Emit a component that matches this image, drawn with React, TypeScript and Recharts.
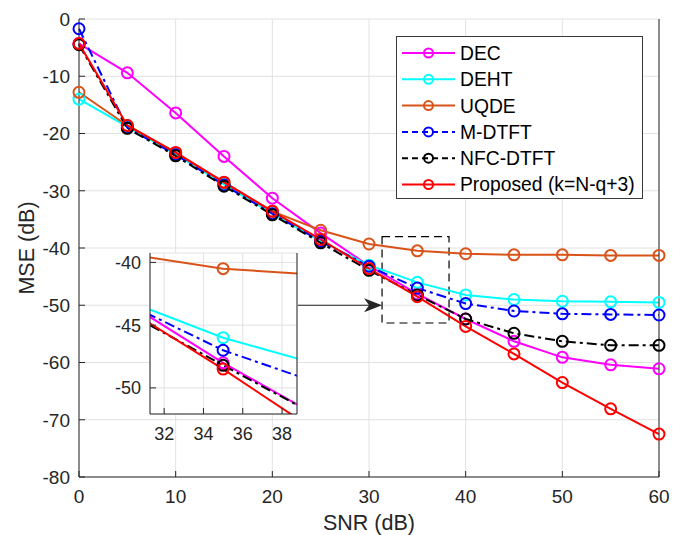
import React from 'react';
import {
  LineChart,
  Line,
  XAxis,
  YAxis,
  CartesianGrid,
  ReferenceArea,
  ReferenceLine,
} from 'recharts';

// SNR grid (dB)
const snr = [0, 5, 10, 15, 20, 25, 30, 35, 40, 45, 50, 55, 60];

// MSE (dB) per method
const dec = [-4.3, -9.4, -16.4, -24.0, -31.3, -37.4, -43.1, -48.0, -52.4, -56.3, -59.1, -60.4, -61.1];
const deht = [-14.0, -18.8, -23.6, -28.9, -34.0, -38.8, -43.0, -46.0, -48.2, -49.0, -49.3, -49.4, -49.5];
const uqde = [-12.8, -18.6, -23.4, -28.6, -33.6, -36.9, -39.3, -40.5, -41.0, -41.2, -41.2, -41.3, -41.3];
const mDtft = [-1.7, -19.0, -23.7, -29.0, -34.0, -38.8, -43.2, -47.0, -49.7, -51.0, -51.5, -51.6, -51.7];
const nfcDtft = [-4.5, -19.1, -23.9, -29.2, -34.2, -39.1, -43.9, -48.2, -52.4, -54.9, -56.3, -57.0, -57.0];
const proposed = [-4.3, -18.6, -23.3, -28.5, -33.6, -38.5, -43.6, -48.5, -53.7, -58.5, -63.5, -68.1, -72.5];

const xTicks = [0, 10, 20, 30, 40, 50, 60];
const yTicks = [-80, -70, -60, -50, -40, -30, -20, -10, 0];
const insetXTicks = [32, 34, 36, 38];
const insetYTicks = [-50, -45, -40];

// zoomed window (data coords)
const insetXDomain = [31.28, 38.76];
const insetYDomain = [-52.08, -39.25];
const zoomBox = { x1: 31.35, x2: 38.28, y1: -53.1, y2: -38.0 };
const arrowFrom = { x: 22.65, y: -50.0 };
const arrowTo = { x: 31.35, y: -50.0 };

const DASHDOT = '10 4 3 4';

const seriesList = [
  { key: 'dec', name: 'DEC', values: dec, color: '#ff00ff', dash: undefined as string | undefined },
  { key: 'deht', name: 'DEHT', values: deht, color: '#00ffff', dash: undefined },
  { key: 'uqde', name: 'UQDE', values: uqde, color: '#d95319', dash: undefined },
  { key: 'mdtft', name: 'M-DTFT', values: mDtft, color: '#0000ff', dash: DASHDOT },
  { key: 'nfc', name: 'NFC-DTFT', values: nfcDtft, color: '#000000', dash: DASHDOT },
  { key: 'proposed', name: 'Proposed (k=N-q+3)', values: proposed, color: '#ff0000', dash: undefined },
];

const data = snr.map((s, i) => {
  const row: Record<string, number> = { snr: s };
  seriesList.forEach((sr) => {
    row[sr.key] = sr.values[i];
  });
  return row;
});

const FONT = '"Liberation Sans", Arial, Helvetica, sans-serif';
const AXIS = '#262626';
const GRID = '#e2e2e2';

// tick label renderers (recharts passes x/y/payload)
const xTick = (size: number) => (props: any) => (
  <text
    x={props.x}
    y={props.y}
    dy="0.71em"
    textAnchor="middle"
    fontSize={size}
    fontFamily={FONT}
    fill={AXIS}
  >
    {props.payload.value}
  </text>
);

const yTick = (size: number) => (props: any) => (
  <text
    x={props.x}
    y={props.y}
    dy="0.36em"
    textAnchor="end"
    fontSize={size}
    fontFamily={FONT}
    fill={AXIS}
  >
    {props.payload.value}
  </text>
);

const Arrow = (props: any) => {
  const { x1, y1, x2, y2 } = props;
  return (
    <g>
      <line x1={x1} y1={y1} x2={x2 - 12} y2={y2} stroke={AXIS} strokeWidth={1} />
      <polygon
        points={`${x2},${y2} ${x2 - 18},${y2 - 7} ${x2 - 13},${y2} ${x2 - 18},${y2 + 7}`}
        fill={AXIS}
      />
    </g>
  );
};

const renderLines = () =>
  seriesList.map((sr) => (
    <Line
      key={sr.key}
      type="linear"
      dataKey={sr.key}
      stroke={sr.color}
      strokeWidth={2}
      strokeDasharray={sr.dash}
      dot={{ r: 5.5, fill: 'none', strokeWidth: 2, strokeDasharray: 'none' }}
      activeDot={false}
      isAnimationActive={false}
    />
  ));

const LegendBox = () => (
  <div
    style={{
      position: 'absolute',
      left: 396,
      top: 36,
      width: 245,
      height: 161,
      border: '1px solid #3a3a3a',
      background: '#fff',
    }}
  >
    <svg width={245} height={161}>
      {seriesList.map((sr, i) => {
        const y = 16 + i * 26.3;
        return (
          <g key={sr.key}>
            <line
              x1={5}
              x2={58}
              y1={y}
              y2={y}
              stroke={sr.color}
              strokeWidth={2}
              strokeDasharray={sr.dash ? '6 4' : undefined}
            />
            <circle cx={31.5} cy={y} r={4.5} fill="none" stroke={sr.color} strokeWidth={2} />
            <text x={63} y={y} dy="0.36em" fontSize={19.3} fontFamily={FONT} fill="#000">
              {sr.name}
            </text>
          </g>
        );
      })}
    </svg>
  </div>
);

export default function App() {
  return (
    <div
      style={{
        position: 'absolute',
        left: 0,
        top: 0,
        width: 684,
        height: 535,
        background: '#fff',
        fontFamily: FONT,
      }}
    >
      <LineChart
        width={684}
        height={535}
        data={data}
        margin={{ top: 19, right: 24, bottom: 0, left: 0 }}
      >
        <CartesianGrid stroke={GRID} />
        <XAxis
          dataKey="snr"
          type="number"
          domain={[0, 60]}
          ticks={xTicks}
          height={58}
          tickSize={-6}
          tickMargin={19}
          stroke={AXIS}
          tick={xTick(19)}
          label={{
            value: 'SNR (dB)',
            position: 'insideBottom',
            offset: 5,
            fill: AXIS,
            fontSize: 21.5,
            fontFamily: FONT,
          }}
        />
        <XAxis
          xAxisId="top"
          orientation="top"
          type="number"
          domain={[0, 60]}
          ticks={xTicks}
          height={0}
          tickSize={-6}
          tick={false}
          stroke={AXIS}
        />
        <YAxis
          type="number"
          domain={[-80, 0]}
          ticks={yTicks}
          width={79}
          tickSize={-6}
          tickMargin={15}
          stroke={AXIS}
          tick={yTick(19)}
          label={{
            value: 'MSE (dB)',
            angle: -90,
            position: 'insideLeft',
            offset: 26,
            fill: AXIS,
            fontSize: 21.5,
            fontFamily: FONT,
            style: { textAnchor: 'middle' },
          }}
        />
        <YAxis
          yAxisId="right"
          orientation="right"
          type="number"
          domain={[-80, 0]}
          ticks={yTicks}
          width={1}
          tickSize={-6}
          tick={false}
          stroke={AXIS}
        />
        {renderLines()}
        <ReferenceArea
          x1={zoomBox.x1}
          x2={zoomBox.x2}
          y1={zoomBox.y1}
          y2={zoomBox.y2}
          fill="none"
          fillOpacity={0}
          stroke="#000"
          strokeWidth={1.2}
          strokeDasharray="8 5"
          ifOverflow="visible"
        />
        <ReferenceLine
          segment={[arrowFrom, arrowTo]}
          ifOverflow="visible"
          shape={Arrow}
        />
      </LineChart>

      <div style={{ position: 'absolute', left: 100, top: 243 }}>
        <LineChart
          width={200}
          height={211}
          data={data}
          margin={{ top: 10, right: 2, bottom: 0, left: 0 }}
        >
          <CartesianGrid stroke={GRID} fill="#fff" fillOpacity={1} />
          <XAxis
            dataKey="snr"
            type="number"
            domain={insetXDomain}
            allowDataOverflow
            ticks={insetXTicks}
            height={40}
            tickSize={-6}
            tickMargin={19}
            stroke={AXIS}
            tick={xTick(18)}
          />
          <XAxis
            xAxisId="top"
            orientation="top"
            type="number"
            domain={insetXDomain}
            allowDataOverflow
            ticks={insetXTicks}
            height={0}
            tickSize={-6}
            tick={false}
            stroke={AXIS}
          />
          <YAxis
            type="number"
            domain={insetYDomain}
            allowDataOverflow
            ticks={insetYTicks}
            width={50}
            tickSize={-6}
            tickMargin={15}
            stroke={AXIS}
            tick={yTick(18)}
          />
          <YAxis
            yAxisId="right"
            orientation="right"
            type="number"
            domain={insetYDomain}
            allowDataOverflow
            ticks={insetYTicks}
            width={1}
            tickSize={-6}
            tick={false}
            stroke={AXIS}
          />
          {renderLines()}
        </LineChart>
      </div>

      <LegendBox />
    </div>
  );
}
